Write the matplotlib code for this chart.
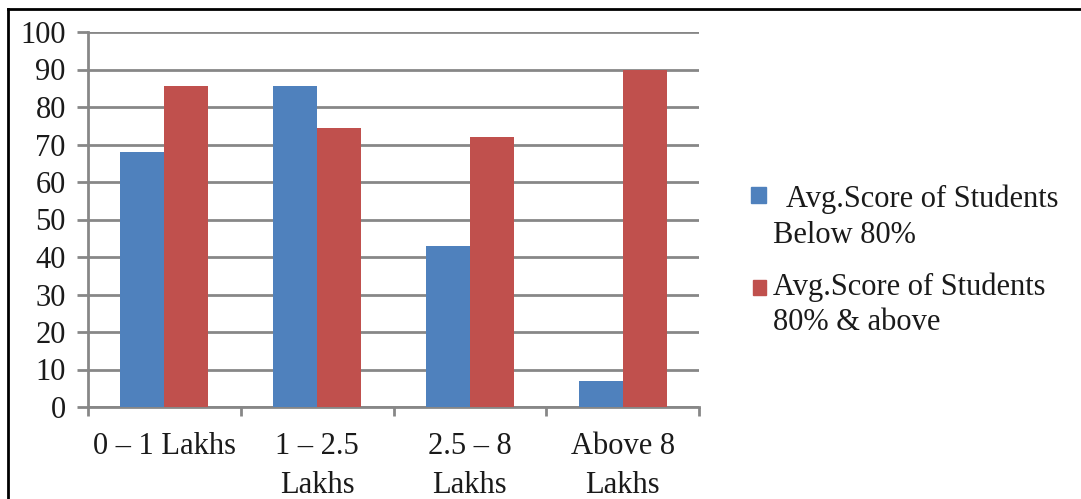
import matplotlib
matplotlib.use("Agg")
import matplotlib.pyplot as plt
from matplotlib.lines import Line2D
from matplotlib.patches import Rectangle
import numpy as np

# Income groups and average scores
categories = ["0 – 1 Lakhs", "1 – 2.5\nLakhs", "2.5 – 8\nLakhs", "Above 8\nLakhs"]
below_80 = [68, 85.5, 43, 7]
above_80 = [85.5, 74.5, 72, 90]
y_ticks = list(range(0, 101, 10))

BLUE = "#4F81BD"
RED = "#C0504D"
GRID = "#878787"
TXT = "#1a1a1a"
FS = 22

plt.rcParams["font.family"] = ["Liberation Serif", "DejaVu Serif"]

W, H = 1081, 499
fig = plt.figure(figsize=(W / 100, H / 100), dpi=100)
fig.patch.set_facecolor("white")

def fx(px):
    return px / W

def fy(py):
    return 1 - py / H

ax = fig.add_axes([fx(88), fy(407), fx(699) - fx(88), fy(32) - fy(407)])

x = np.arange(len(categories))
width = 0.288
ax.bar(x - width / 2, below_80, width, color=BLUE, zorder=3)
ax.bar(x + width / 2, above_80, width, color=RED, zorder=3)

ax.set_xlim(-0.5, len(categories) - 0.5)
ax.set_ylim(0, 100)
ax.set_yticks(y_ticks)
ax.set_yticklabels([str(v) for v in y_ticks])
ax.yaxis.grid(True, color=GRID, linewidth=2, zorder=0)
ax.set_axisbelow(True)

ax.set_xticks(x)
ax.set_xticklabels(categories, linespacing=1.45)
ax.set_xticks(np.arange(-0.5, len(categories), 1.0), minor=True)
ax.tick_params(axis="x", which="major", length=0, pad=18, labelsize=FS, colors=TXT)
ax.tick_params(axis="x", which="minor", length=6.5, width=2, color=GRID)
ax.tick_params(axis="y", length=8, width=2, color=GRID, pad=8, labelsize=FS, labelcolor=TXT)

for side in ("top", "right"):
    ax.spines[side].set_visible(False)
for side in ("left", "bottom"):
    ax.spines[side].set_color(GRID)
    ax.spines[side].set_linewidth(2)

# Legend drawn in figure space
fig.patches.append(Rectangle((fx(751), fy(203)), fx(766) - fx(751), fy(187) - fy(203),
                             transform=fig.transFigure, color=BLUE, figure=fig))
fig.patches.append(Rectangle((fx(753), fy(295)), fx(766) - fx(753), fy(280) - fy(295),
                             transform=fig.transFigure, color=RED, figure=fig))
legend_lines = [
    (786, 207, "Avg.Score of Students"),
    (773, 243, "Below 80%"),
    (773, 295, "Avg.Score of Students"),
    (773, 330, "80% & above"),
]
for px, py, txt in legend_lines:
    fig.text(fx(px), fy(py), txt, fontsize=FS, va="baseline", ha="left", color=TXT)

# Outer frame (top and left edges)
fig.lines.append(Line2D([fx(8), 1], [fy(9), fy(9)], transform=fig.transFigure,
                        color="black", linewidth=2, figure=fig))
fig.lines.append(Line2D([fx(8), fx(8)], [0, fy(9)], transform=fig.transFigure,
                        color="black", linewidth=2, figure=fig))

fig.savefig("out.png", dpi=100, facecolor="white")
